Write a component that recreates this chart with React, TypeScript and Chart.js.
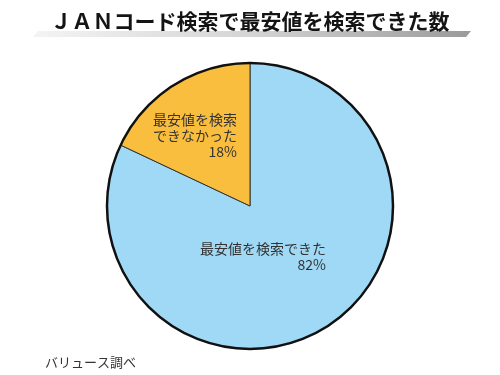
import React, { useEffect, useRef } from "react";
import { Chart, registerables } from "chart.js";

Chart.register(...registerables);

const titleText = "ＪＡＮコード検索で最安値を検索できた数";
const sourceText = "バリュース調べ";
const categories = ["最安値を検索できた", "最安値を検索できなかった"];
const labelLines = [["最安値を検索できた"], ["最安値を検索", "できなかった"]];
const shares = [82, 18];
const sliceColors = ["#a0d9f5", "#f9be3e"];

const JP = '"Noto Sans CJK JP", "Noto Sans", sans-serif';

const decorPlugin = {
  id: "decor",
  beforeDraw(chart: any) {
    const ctx = chart.ctx;
    ctx.save();
    // title underline: slanted gradient bar
    const g = ctx.createLinearGradient(33, 0, 470, 0);
    g.addColorStop(0, "#f4f4f4");
    g.addColorStop(0.5, "#d4d4d4");
    g.addColorStop(1, "#9a9a9a");
    ctx.fillStyle = g;
    ctx.beginPath();
    ctx.moveTo(38, 31);
    ctx.lineTo(471, 31);
    ctx.lineTo(466, 37);
    ctx.lineTo(33, 37);
    ctx.closePath();
    ctx.fill();
    // title
    ctx.fillStyle = "#141414";
    ctx.font = `bold 21px ${JP}`;
    ctx.textAlign = "center";
    ctx.textBaseline = "middle";
    ctx.fillText(titleText, 250, 21);
    // source note
    ctx.fillStyle = "#333";
    ctx.font = `13px ${JP}`;
    ctx.textAlign = "left";
    ctx.fillText(sourceText, 45, 362);
    ctx.restore();
  },
  afterDatasetsDraw(chart: any) {
    const ctx = chart.ctx;
    const meta = chart.getDatasetMeta(0);
    const arc = meta.data[0];
    const cx = arc.x;
    const cy = arc.y;
    const r = arc.outerRadius;
    ctx.save();
    ctx.strokeStyle = "#111";
    ctx.lineWidth = 2.5;
    ctx.beginPath();
    ctx.arc(cx, cy, r, 0, Math.PI * 2);
    ctx.stroke();

    ctx.fillStyle = "#333";
    ctx.font = `14px ${JP}`;
    ctx.textAlign = "right";
    ctx.textBaseline = "middle";
    // large slice label
    const a = labelLines[0];
    a.forEach((t, i) => ctx.fillText(t, cx + 76, cy + 43 + i * 16));
    ctx.fillText(`${shares[0]}%`, cx + 76, cy + 43 + a.length * 16);
    // small slice label
    const b = labelLines[1];
    b.forEach((t, i) => ctx.fillText(t, cx - 13, cy - 86 + i * 16));
    ctx.fillText(`${shares[1]}%`, cx - 13, cy - 86 + b.length * 16);
    ctx.restore();
  },
};

export default function App() {
  const ref = useRef<HTMLCanvasElement>(null);
  useEffect(() => {
    if (!ref.current) return;
    const chart = new Chart(ref.current, {
      type: "pie",
      data: {
        labels: categories,
        datasets: [
          {
            data: shares,
            backgroundColor: sliceColors,
            borderColor: "#333",
            borderWidth: 1,
          },
        ],
      },
      options: {
        responsive: false,
        animation: false,
        radius: 143,
        layout: { padding: { top: 60, bottom: 23, left: 20, right: 20 } },
        plugins: {
          legend: { display: false },
          tooltip: { enabled: false },
          title: { display: false },
        },
      } as any,
      plugins: [decorPlugin],
    });
    return () => chart.destroy();
  }, []);
  return (
    <div style={{ position: "fixed", left: 0, top: 0, width: 500, height: 375, background: "#fff" }}>
      <canvas ref={ref} width={500} height={375} />
    </div>
  );
}
